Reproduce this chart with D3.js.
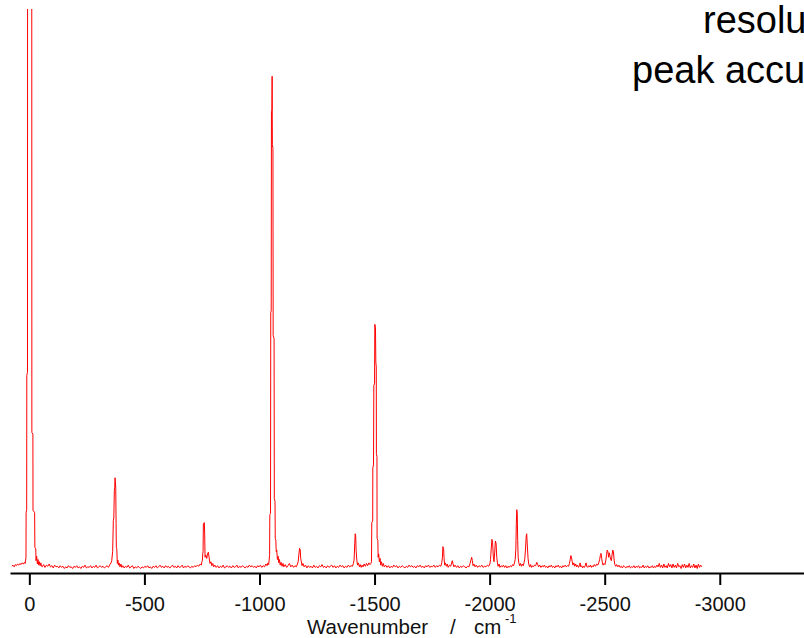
<!DOCTYPE html>
<html>
<head>
<meta charset="utf-8">
<script src="https://cdn.jsdelivr.net/npm/d3@7"></script>
<style>
  html, body { margin: 0; padding: 0; background: #fff; overflow: hidden; }
  svg { display: block; font-family: "Liberation Sans", Arial, sans-serif; }
</style>
</head>
<body>
<svg id="chart" width="804" height="638"></svg>
<script>
// ---- data ----
const xTicks = [0, -500, -1000, -1500, -2000, -2500, -3000];
const axisTitleParts = ["Wavenumber", "/", "cm"];
const axisTitleSup = "-1";
const noteLines = ["resolution", "peak accuracy"];

// [wavenumber shift (cm-1), intensity (arb. units)]
const spectrum = [
[76,0.4],[71,0.6],[66,0.3],[61,0.7],[56,0.5],[51,0.8],[46,0.6],[41,0.9],[36,0.7],[31,1.0],[26,0.8],[21,1.1],[18,0.9],
[16,1.5],[14.5,2],[14,10],[11.5,10.5],[11,34.5],[8,35],[7.5,125],[-10.5,125],[-11,24.3],[-15.5,24],[-16,10.4],[-23,10],[-24,3.8],[-28,3.5],[-29,1.4],[-32,2.2],[-35,0.8],[-38,1.6],[-41,0.6],[-44,1.2],[-47,0.5],[-50,1.0],[-53,0.4],
[-56,0.3],[-62,0.7],[-68,0.2],[-74,0.6],[-80,0.4],[-86,0.8],[-92,0.3],[-98,0.5],[-104,0.1],[-110,0.6],[-116,0.3],[-122,0.4],[-128,0.1],[-134,0.5],[-140,0.2],[-146,0.4],[-152,0.0],[-158,0.3],[-164,0.1],[-170,0.5],[-176,0.2],[-182,0.3],[-188,0.0],[-194,0.4],[-200,0.2],[-206,0.5],[-212,0.1],[-218,0.3],[-224,0.0],[-230,0.4],[-236,0.2],[-242,0.6],[-248,0.1],[-254,0.3],[-260,0.2],[-266,0.5],[-272,0.1],[-278,0.4],[-284,0.2],[-290,0.6],[-296,0.1],[-302,0.3],[-308,0.5],[-314,0.2],[-320,0.4],[-326,0.1],[-332,0.3],[-338,0.5],[-344,0.2],[-350,0.7],[-355,1.0],
[-358,1.4],[-362,3],[-365,8.6],[-367,9],[-369.4,13.9],[-371,14.5],[-372.4,16.2],[-374,15.5],[-375.5,14.3],[-377,8],[-378,3.8],[-380,3.5],[-382.4,0.9],[-385,1.5],[-387,0.6],[-390,1.0],[-394,0.3],[-398,0.8],[-402,0.2],
[-406,0.5],[-412,0.1],[-418,0.4],[-424,0.2],[-430,0.6],[-436,0.1],[-442,0.3],[-448,0.5],[-454,0.0],[-460,0.3],[-466,0.1],[-472,0.4],[-478,0.2],[-484,0.0],[-490,0.3],[-496,0.1],[-502,0.4],[-508,0.2],[-514,0.5],[-520,0.1],[-526,0.3],[-532,0.0],[-538,0.4],[-544,0.2],[-550,0.5],[-556,0.1],[-562,0.3],[-568,0.6],[-574,0.2],[-580,0.4],[-586,0.1],[-592,0.5],[-598,0.2],[-604,0.4],[-610,0.1],[-616,0.3],[-622,0.6],[-628,0.2],[-634,0.4],[-640,0.1],[-646,0.5],[-652,0.2],[-658,0.3],[-664,0.6],[-670,0.1],[-676,0.4],[-682,0.2],[-688,0.5],[-694,0.3],[-700,0.1],[-706,0.4],[-712,0.2],[-718,0.5],[-724,0.3],[-730,0.6],[-736,0.4],[-742,0.8],[-747,0.6],[-750,1.2],
[-752,1.5],[-753.6,2.7],[-755,3],[-756.2,8],[-760.5,8.2],[-762,6],[-763.6,2],[-766,2.4],[-769,2.2],[-771,1.8],[-774,2.6],[-778,2.9],[-781,2.0],[-785,0.9],[-789,1.2],[-793,0.5],[-797,0.9],[-801,0.3],
[-806,0.6],[-812,0.2],[-818,0.5],[-824,0.1],[-830,0.4],[-836,0.2],[-842,0.6],[-848,0.1],[-854,0.3],[-860,0.5],[-866,0.2],[-872,0.4],[-878,0.1],[-884,0.5],[-890,0.2],[-896,0.3],[-902,0.6],[-908,0.1],[-914,0.4],[-920,0.2],[-926,0.5],[-932,0.3],[-938,0.1],[-944,0.4],[-950,0.2],[-956,0.6],[-962,0.3],[-968,0.5],[-974,0.2],[-980,0.4],[-986,0.1],[-992,0.5],[-998,0.3],[-1004,0.6],[-1010,0.2],[-1016,0.5],[-1022,0.3],[-1028,0.8],[-1033,0.5],[-1037,1.0],[-1040,0.7],[-1042,1.5],
[-1044,2.5],[-1045,9.6],[-1048,9.8],[-1049,45.7],[-1051,46],[-1052,81.6],[-1054,82],[-1055,87.9],[-1056,75.7],[-1058.5,75],[-1059.5,41.6],[-1063.5,41],[-1064.5,12.5],[-1067.5,12],[-1068.5,5.4],[-1071,5],[-1073,3],[-1075,3.3],[-1078,1.6],[-1081,2.2],[-1084,1.0],[-1087,1.6],[-1090,0.6],[-1094,1.1],[-1098,0.4],[-1102,0.9],[-1106,0.3],
[-1112,0.7],[-1118,0.2],[-1124,0.5],[-1130,0.9],[-1136,0.3],[-1142,0.6],[-1148,0.2],[-1154,0.5],[-1160,0.3],[-1165,0.8],[-1168,1.2],
[-1171,2.4],[-1174,3.6],[-1177,3.4],[-1179,1.8],[-1182,1.2],[-1185,0.5],[-1189,0.9],
[-1194,0.3],[-1200,0.6],[-1206,0.1],[-1212,0.5],[-1218,0.2],[-1224,0.4],[-1230,0.1],[-1236,0.6],[-1242,0.2],[-1248,0.4],[-1254,0.1],[-1260,0.5],[-1266,0.3],[-1272,0.7],[-1278,0.2],[-1284,0.4],[-1290,0.1],[-1296,0.5],[-1302,0.2],[-1308,0.4],[-1314,0.6],[-1320,0.2],[-1326,0.5],[-1332,0.1],[-1338,0.4],[-1344,0.2],[-1350,0.6],[-1356,0.3],[-1362,0.5],[-1368,0.1],[-1374,0.4],[-1380,0.2],[-1386,0.6],[-1392,0.3],[-1398,0.5],[-1404,0.4],[-1408,0.9],
[-1411,1.5],[-1414,4.5],[-1416,6.2],[-1418,5.8],[-1420,3.2],[-1423,1.5],[-1426,0.6],[-1430,1.0],[-1434,0.3],[-1438,0.7],[-1442,0.2],[-1446,0.6],[-1450,0.3],[-1455,0.8],[-1460,0.4],[-1465,0.9],[-1470,0.5],[-1475,1.0],[-1480,0.7],
[-1484,0.9],[-1486.7,1.2],[-1488,8.2],[-1492,8.5],[-1492.5,18],[-1495.5,18.5],[-1496.9,32.7],[-1500,33],[-1501.2,43.6],[-1504,43],[-1505.6,36.8],[-1507.5,36],[-1508,20.5],[-1510.5,20],[-1511,5.4],[-1514.5,5],[-1515.5,2],[-1518,2.6],[-1521,1.2],[-1524,1.8],[-1527,0.6],[-1530,1.2],[-1534,0.4],[-1538,0.9],[-1542,0.3],
[-1548,0.6],[-1554,0.2],[-1560,0.5],[-1566,0.1],[-1572,0.4],[-1578,0.2],[-1584,0.6],[-1590,0.3],[-1596,0.5],[-1602,0.1],[-1608,0.4],[-1614,0.2],[-1620,0.5],[-1626,0.3],[-1632,0.1],[-1638,0.4],[-1644,0.2],[-1650,0.6],[-1656,0.3],[-1662,0.5],[-1668,0.2],[-1674,0.4],[-1680,0.1],[-1686,0.5],[-1692,0.3],[-1698,0.6],[-1704,0.2],[-1710,0.4],[-1716,0.1],[-1722,0.5],[-1728,0.3],[-1734,0.6],[-1740,0.2],[-1746,0.4],[-1752,0.3],[-1758,0.6],[-1764,0.2],[-1770,0.5],[-1776,0.3],[-1782,0.6],[-1788,0.4],[-1792,1.0],
[-1795,2.0],[-1797,3.9],[-1800,3.6],[-1802,1.8],[-1805,0.6],[-1808,1.0],[-1812,0.4],[-1816,0.8],[-1820,0.2],[-1826,0.6],[-1831,0.4],[-1835,1.0],[-1838,1.4],[-1841,0.8],[-1845,0.3],[-1850,0.6],[-1856,0.2],[-1862,0.5],[-1868,0.1],[-1874,0.4],[-1880,0.2],[-1886,0.5],[-1892,0.3],[-1898,0.1],[-1904,0.4],[-1910,0.3],[-1915,0.9],[-1919,1.5],[-1922,2.0],[-1925,1.4],[-1928,0.5],[-1932,0.8],[-1937,0.3],[-1942,0.6],[-1948,0.2],[-1954,0.5],[-1960,0.3],[-1966,0.6],[-1972,0.2],[-1978,0.4],[-1984,0.3],[-1990,0.6],[-1996,0.4],[-2001,0.8],[-2004,1.6],
[-2007,3.5],[-2010,5.2],[-2013,4.6],[-2016,2.2],[-2019,1.2],[-2022,2.8],[-2025,4.9],[-2028,4.5],[-2031,2.0],[-2034,1.0],[-2037,0.4],[-2041,0.8],[-2045,0.2],[-2050,0.5],[-2055,0.3],[-2060,0.6],[-2065,0.2],[-2070,0.5],[-2075,0.1],[-2080,0.4],[-2085,0.2],[-2090,0.5],[-2095,0.3],[-2100,0.7],[-2104,0.5],[-2108,1.0],[-2111,1.6],
[-2114,3.5],[-2116,8.0],[-2118,10.5],[-2120,9.8],[-2122,5.0],[-2124,2.0],[-2127,1.0],[-2130,0.5],[-2134,0.9],[-2138,0.4],[-2142,0.8],[-2146,0.5],[-2150,1.1],[-2153,1.8],[-2156,3.5],[-2159,5.8],[-2161,6.2],[-2164,4.0],[-2167,1.8],[-2170,0.8],[-2174,0.3],[-2178,0.7],[-2182,0.2],[-2186,0.5],[-2190,0.3],[-2195,0.6],[-2200,0.5],[-2205,1.1],[-2209,0.7],[-2213,0.3],[-2218,0.6],[-2223,0.2],[-2228,0.5],[-2233,0.3],[-2238,0.6],[-2243,0.2],[-2248,0.4],[-2253,0.1],[-2258,0.5],[-2263,0.3],[-2268,0.6],[-2273,0.2],[-2278,0.4],[-2283,0.1],[-2288,0.5],[-2293,0.3],[-2298,0.6],[-2303,0.2],[-2308,0.4],[-2313,0.1],[-2318,0.5],[-2323,0.3],[-2328,0.6],[-2333,0.3],[-2338,0.5],[-2343,0.4],[-2347,0.9],
[-2350,1.6],[-2353,2.3],[-2356,1.9],[-2359,1.2],[-2362,0.6],[-2366,1.0],[-2370,0.4],[-2374,0.8],[-2378,0.3],[-2382,0.6],[-2386,0.2],[-2390,0.5],[-2393,1.0],[-2396,0.3],[-2400,0.5],[-2404,0.1],[-2408,0.4],[-2412,0.2],[-2416,0.6],[-2419,1.0],[-2422,0.4],[-2426,0.2],[-2430,0.5],[-2434,0.3],[-2438,0.6],[-2442,0.2],[-2446,0.5],[-2450,0.3],[-2455,0.7],[-2460,0.4],[-2465,0.8],[-2470,0.6],[-2474,1.0],
[-2478,1.6],[-2481,2.3],[-2484,2.7],[-2487,1.8],[-2490,1.0],[-2493,0.6],[-2497,0.9],[-2501,0.7],[-2505,1.5],[-2508,2.5],[-2511,3.3],[-2514,3.0],[-2517,2.0],[-2520,2.8],[-2523,2.2],[-2526,1.6],[-2529,1.4],[-2532,2.4],[-2535,3.3],[-2538,3.0],[-2541,1.5],[-2544,0.7],[-2548,0.4],[-2552,0.7],
[-2557,0.3],[-2562,0.6],[-2567,0.2],[-2572,0.4],[-2577,0.1],[-2582,0.5],[-2587,0.3],[-2592,0.1],[-2597,0.4],[-2602,0.2],[-2607,0.5],[-2612,0.1],[-2617,0.3],[-2622,0.2],[-2627,0.5],[-2632,0.1],[-2637,0.4],[-2642,0.2],[-2647,0.5],[-2652,0.1],[-2657,0.3],[-2662,0.2],[-2667,0.6],[-2672,0.1],[-2677,0.4],[-2682,0.2],[-2687,0.5],[-2692,0.1],[-2697,0.3],[-2702,0.2],[-2707,0.5],[-2712,0.1],[-2717,0.4],[-2722,0.2],[-2727,0.6],[-2732,0.3],[-2737,0.9],[-2742,0.2],[-2747,0.6],[-2752,0.1],[-2757,0.8],[-2762,0.2],[-2767,0.5],[-2772,0.1],[-2777,0.9],[-2782,0.3],[-2787,0.7],[-2792,0.1],[-2797,0.8],[-2802,0.2],[-2807,0.6],[-2812,0.1],[-2817,0.9],[-2822,0.3],[-2827,0.5],[-2832,0.0],[-2837,0.7],[-2842,0.2],[-2847,0.8],[-2852,0.1],[-2857,0.6],[-2862,0.2],[-2867,0.9],[-2872,0.1],[-2877,0.5],[-2882,0.2],[-2887,0.8],[-2892,0.1],[-2897,0.6],[-2902,0.0],[-2907,0.8],[-2912,0.2],[-2917,0.6],[-2922,0.3]
];

// ---- drawing ----
const svg = d3.select("#chart");
const W = 804, H = 638;

const x = d3.scaleLinear().domain([84, -3366]).range([10, 804]);
const y = d3.scaleLinear().domain([0, 100]).range([568.5, 8.5]);

svg.append("defs").append("clipPath").attr("id", "plotclip")
  .append("rect").attr("x", 0).attr("y", 9).attr("width", W).attr("height", 570);

const line = d3.line().x(d => x(d[0])).y(d => y(d[1]));

svg.append("path")
  .datum(spectrum)
  .attr("clip-path", "url(#plotclip)")
  .attr("fill", "none")
  .attr("stroke", "#ff0000")
  .attr("stroke-width", 1)
  .attr("stroke-linejoin", "miter")
  .attr("d", line);

const axis = d3.axisBottom(x)
  .tickValues(xTicks)
  .tickFormat(d => String(d))
  .tickSize(12)
  .tickSizeOuter(0)
  .tickPadding(12);

const gx = svg.append("g")
  .attr("transform", "translate(0,573)")
  .call(axis);
gx.select(".domain").attr("stroke", "#000").attr("stroke-width", 2);
gx.selectAll(".tick line").attr("stroke", "#000").attr("stroke-width", 2);
gx.selectAll(".tick text")
  .attr("fill", "#111")
  .style("font-family", "'Liberation Sans', Arial, sans-serif")
  .style("font-size", "20px");

// axis title
const title = svg.append("g")
  .style("font-family", "'Liberation Sans', Arial, sans-serif")
  .attr("fill", "#111");
const titleX = [307, 450, 474];
axisTitleParts.forEach((t, i) => {
  title.append("text").attr("x", titleX[i]).attr("y", 634)
    .style("font-size", "20.5px").text(t);
});
title.append("text").attr("x", 505).attr("y", 623)
  .style("font-size", "13px").text(axisTitleSup);

// annotation in upper right (clipped by the frame, as in the reference)
const note = svg.append("g")
  .style("font-family", "'Liberation Sans', Arial, sans-serif")
  .attr("fill", "#000")
  .style("font-size", "38px");
note.append("text").attr("x", 703).attr("y", 33).text(noteLines[0]);
note.append("text").attr("x", 632).attr("y", 83).text(noteLines[1]);
</script>
</body>
</html>
